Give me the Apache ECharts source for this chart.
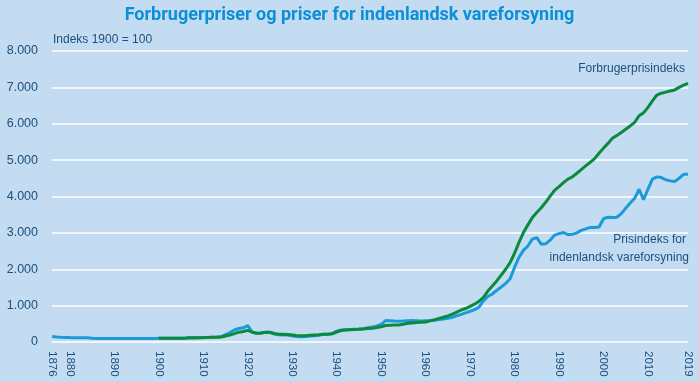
<!DOCTYPE html>
<html><head><meta charset="utf-8">
<script src="https://cdn.jsdelivr.net/npm/echarts@6/dist/echarts.min.js"></script>
<style>html,body{margin:0;padding:0;background:#c3dcf2}#c{width:699px;height:382px}</style>
</head><body><div id="c"></div>
<script>
const years = [];
for (let y = 1876; y <= 2019; y++) years.push(y);

// Prisindeks for indenlandsk vareforsyning, 1876-2019
const supplyIndex = [
155,135,128,125,122,120,120,118,115,100,98,97,96,96,95,95,95,95,95,96,96,97,98,99,
100,100,101,102,103,104,106,115,110,115,120,125,130,135,145,200,260,330,370,390,
450,280,240,250,270,260,220,200,195,190,170,150,145,150,165,175,185,210,210,230,
300,330,340,345,350,355,365,390,410,440,480,590,585,575,570,575,585,590,585,580,
585,590,600,615,630,650,680,720,760,800,840,890,960,1130,1250,1320,1420,1510,1610,1740,
2050,2330,2520,2640,2830,2870,2690,2700,2800,2940,2980,3010,2950,2960,3000,3070,3110,3150,3150,3160,
3390,3430,3420,3430,3530,3680,3820,3950,4200,3910,4200,4480,4540,4520,4460,4430,4410,4500,4610,4610
];

// Forbrugerprisindeks, 1900-2019 (no data before 1900)
const cpiIndex = [
null,null,null,null,null,null,null,null,null,null,null,null,null,null,null,null,null,null,null,null,null,null,null,null,
100,100,102,103,104,106,107,115,120,120,122,125,130,133,135,165,190,230,270,290,
320,270,240,245,265,270,235,215,210,205,195,180,175,175,185,195,200,210,210,225,
275,315,330,340,345,350,360,370,380,395,420,455,460,465,470,490,515,525,535,545,
550,580,610,650,680,720,765,820,880,920,980,1040,1120,1230,1400,1540,1680,1840,2000,2180,
2440,2740,3010,3220,3420,3560,3690,3840,4010,4170,4270,4380,4480,4540,4640,4740,4840,4940,5040,5190,
5330,5460,5600,5680,5760,5850,5940,6040,6220,6300,6450,6630,6790,6840,6870,6900,6930,7000,7060,7110
];

const yTicks = [0,1000,2000,3000,4000,5000,6000,7000,8000];

const textFont = "'Liberation Sans',Arial,sans-serif";
const textColor = '#1d4f7e';
const lblFont = "12px 'Liberation Sans',Arial,sans-serif";

const chart = echarts.init(document.getElementById('c'), null, {renderer:'canvas'});
chart.setOption({
  backgroundColor: '#c3dcf2',
  animation: false,
  title: {
    text: 'Forbrugerpriser og priser for indenlandsk vareforsyning',
    left: 'center', top: 1,
    textStyle: {fontFamily: 'Roboto', fontWeight: 'bold', fontSize: 18, color: '#0b8fd6'}
  },
  grid: {left: 52, right: 11, top: 51, bottom: 40, containLabel: false},
  xAxis: {
    type: 'category', data: years, boundaryGap: false,
    axisLine: {show: false}, axisTick: {show: false}, splitLine: {show: false},
    axisLabel: {
      interval: (i, v) => (+v % 10 === 0) || +v === 1876 || +v === 2019,
      rotate: -90, margin: 9, fontFamily: textFont, fontSize: 11.5, color: textColor
    }
  },
  yAxis: {
    type: 'value', min: yTicks[0], max: yTicks[yTicks.length-1], interval: 1000,
    axisLine: {show: false}, axisTick: {show: false},
    splitLine: {show: true, lineStyle: {color: '#ffffff', width: 1.5}},
    axisLabel: {
      margin: 14, fontFamily: textFont, fontSize: 12.5, color: textColor,
      formatter: v => v === 0 ? '0' : String(v).replace(/\B(?=(\d{3})+(?!\d))/g, '.')
    }
  },
  graphic: [
    {type:'text', left: 53, top: 34, style:{text:'Indeks 1900 = 100', font:lblFont, fill:textColor}},
    {type:'text', right: 14, top: 63, style:{text:'Forbrugerprisindeks', font:lblFont, fill:textColor, align:'right'}},
    {type:'text', right: 13, top: 234, style:{text:'Prisindeks for', font:lblFont, fill:textColor, align:'right'}},
    {type:'text', right: 10, top: 252, style:{text:'indenlandsk vareforsyning', font:lblFont, fill:textColor, align:'right'}}
  ],
  series: [
    {name:'Prisindeks for indenlandsk vareforsyning', type:'line', data: supplyIndex, showSymbol:false, symbol:'none',
     lineStyle:{color:'#1a9bd7', width:3}, z:2},
    {name:'Forbrugerprisindeks', type:'line', data: cpiIndex, showSymbol:false, symbol:'none', connectNulls:false,
     lineStyle:{color:'#0a8a3c', width:3}, z:3}
  ]
});
</script></body></html>
